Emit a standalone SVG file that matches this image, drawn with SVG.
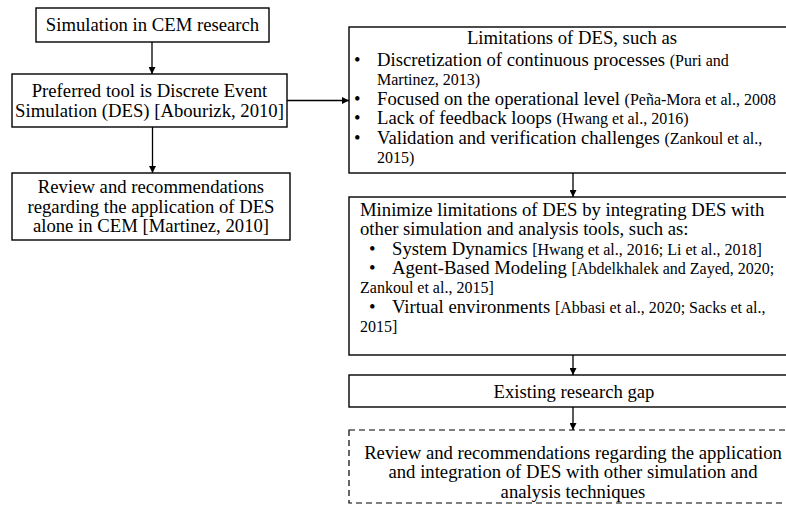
<svg xmlns="http://www.w3.org/2000/svg" width="786" height="505" viewBox="0 0 786 505">
<defs>
<marker id="ah" viewBox="0 0 10 10" refX="10" refY="5" markerWidth="7" markerHeight="7" markerUnits="userSpaceOnUse" orient="auto">
<path d="M0,0 L10,5 L0,10 z" fill="#000"/>
</marker>
<style>
.box{fill:#fff;stroke:#000;stroke-width:1.4}
.dash{fill:#fff;stroke:#000;stroke-width:1.2;stroke-dasharray:6,4}
text{font-family:"Liberation Serif","Times New Roman",serif;fill:#000;font-size:18.7px}
.c{text-anchor:middle}
.s{font-size:16px}
.con{stroke:#000;stroke-width:1.3;fill:none;marker-end:url(#ah)}
</style>
</defs>
<rect width="786" height="505" fill="#fff"/>
<g id="connectors">
<line class="con" x1="152" y1="42" x2="152" y2="74"/>
<line class="con" x1="152.5" y1="127" x2="152.5" y2="173"/>
<line class="con" x1="287" y1="100.5" x2="349" y2="100.5"/>
<line class="con" x1="573" y1="173" x2="573" y2="197"/>
<line class="con" x1="573" y1="355" x2="573" y2="375"/>
<line class="con" x1="573" y1="407" x2="573" y2="430"/>
</g>
<g id="n1">
<rect class="box" x="36" y="8" width="233" height="34"/>
<text class="c" x="152.5" y="31">Simulation in CEM research</text>
</g>
<g id="n2">
<rect class="box" x="12" y="74" width="275" height="53"/>
<text class="c" x="149.5" y="96.5">Preferred tool is Discrete Event</text>
<text class="c" x="149.5" y="116.5">Simulation (DES) [Abourizk, 2010]</text>
</g>
<g id="n3">
<rect class="box" x="12" y="173" width="278" height="67"/>
<text class="c" x="151" y="193">Review and recommendations</text>
<text class="c" x="151" y="212.5">regarding the application of DES</text>
<text class="c" x="151" y="232">alone in CEM [Martinez, 2010]</text>
</g>
<g id="n4">
<rect class="box" x="349" y="27" width="450" height="146"/>
<text class="c" x="572" y="44">Limitations of DES, such as</text>
<text x="354" y="65.5">•</text><text x="377" y="65.5">Discretization of continuous processes <tspan class="s">(Puri and</tspan></text>
<text x="377" y="85" class="s">Martinez, 2013)</text>
<text x="354" y="104.5">•</text><text x="377" y="104.5">Focused on the operational level <tspan class="s">(Peña-Mora et al., 2008</tspan></text>
<text x="354" y="124">•</text><text x="377" y="124">Lack of feedback loops <tspan class="s">(Hwang et al., 2016)</tspan></text>
<text x="354" y="143.5">•</text><text x="377" y="143.5">Validation and verification challenges <tspan class="s">(Zankoul et al.,</tspan></text>
<text x="377" y="163" class="s">2015)</text>
</g>
<g id="n5">
<rect class="box" x="349" y="197" width="450" height="158"/>
<text x="360" y="216">Minimize limitations of DES by integrating DES with</text>
<text x="360" y="235">other simulation and analysis tools, such as:</text>
<text x="369" y="255">•</text><text x="392" y="255">System Dynamics <tspan class="s">[Hwang et al., 2016; Li et al., 2018]</tspan></text>
<text x="369" y="274">•</text><text x="392" y="274">Agent-Based Modeling <tspan class="s">[Abdelkhalek and Zayed, 2020;</tspan></text>
<text x="360" y="293" class="s">Zankoul et al., 2015]</text>
<text x="369" y="313">•</text><text x="392" y="313">Virtual environments <tspan class="s">[Abbasi et al., 2020; Sacks et al.,</tspan></text>
<text x="360" y="332" class="s">2015]</text>
</g>
<g id="n6">
<rect class="box" x="349" y="375" width="450" height="32"/>
<text class="c" x="574" y="397.5">Existing research gap</text>
</g>
<g id="n7">
<rect class="dash" x="349" y="430" width="450" height="73"/>
<text class="c" x="573" y="458.5">Review and recommendations regarding the application</text>
<text class="c" x="573" y="478">and integration of DES with other simulation and</text>
<text class="c" x="573" y="497.5">analysis techniques</text>
</g>
</svg>
